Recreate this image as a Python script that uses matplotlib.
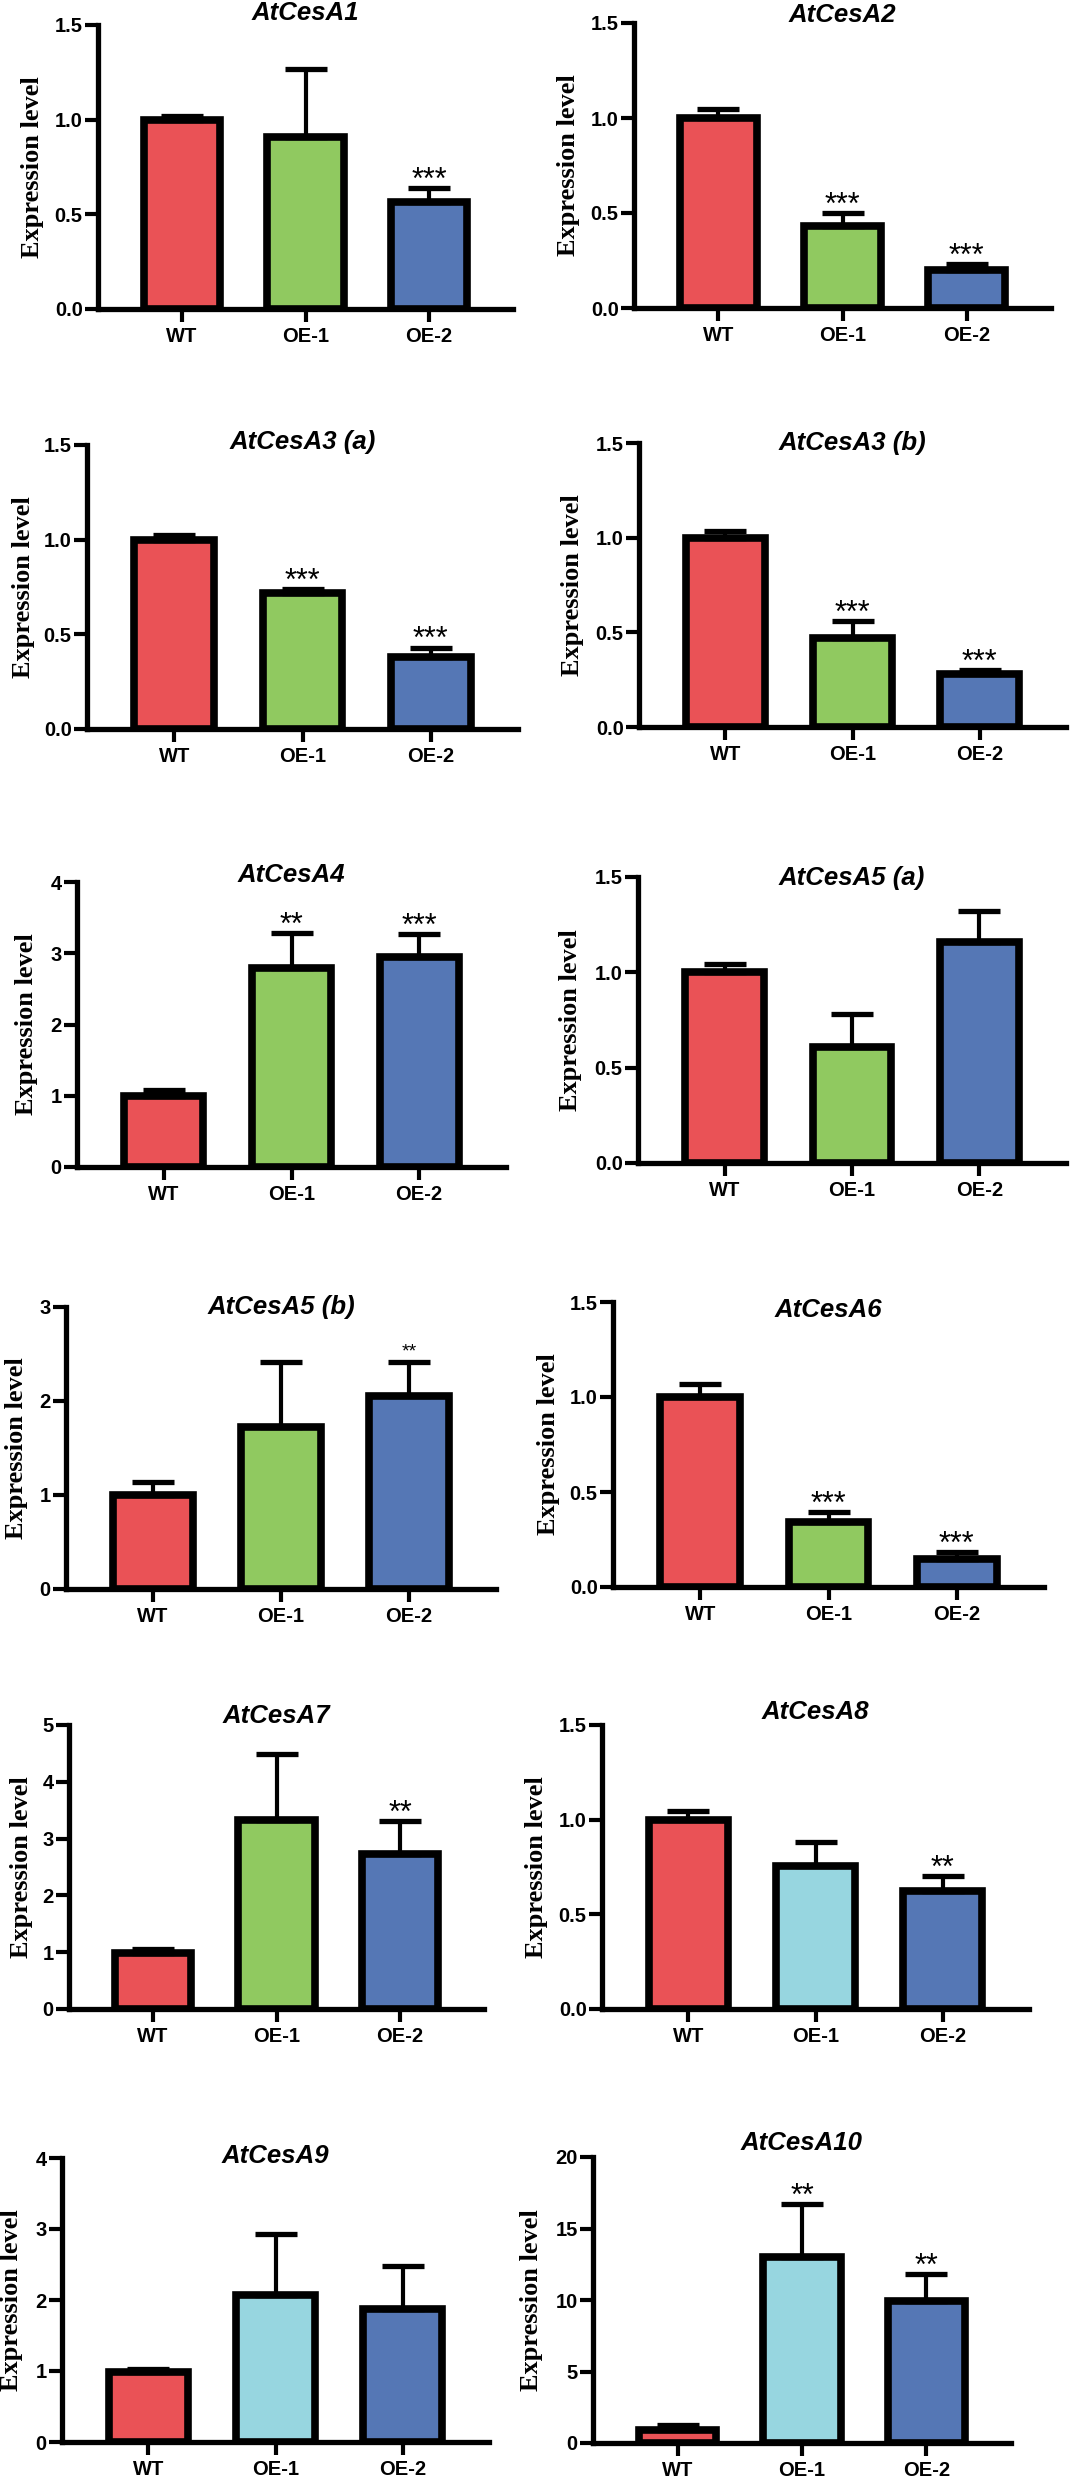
import matplotlib
matplotlib.use('Agg')
import matplotlib.pyplot as plt
from matplotlib.transforms import offset_copy
import numpy as np

# ---------------- data ----------------
groups = ['WT', 'OE-1', 'OE-2']
genes = ['AtCesA1', 'AtCesA2', 'AtCesA3 (a)', 'AtCesA3 (b)', 'AtCesA4', 'AtCesA5 (a)',
         'AtCesA5 (b)', 'AtCesA6', 'AtCesA7', 'AtCesA8', 'AtCesA9', 'AtCesA10']
means = [
    [1.00, 0.91, 0.565],
    [1.00, 0.43, 0.20],
    [1.00, 0.72, 0.38],
    [1.00, 0.47, 0.28],
    [1.00, 2.79, 2.95],
    [1.00, 0.61, 1.16],
    [1.00, 1.72, 2.05],
    [1.00, 0.34, 0.15],
    [0.98, 3.33, 2.73],
    [1.00, 0.755, 0.625],
    [0.98, 2.07, 1.87],
    [0.90, 13.0, 9.9],
]
errors = [
    [0.02, 0.36, 0.075],
    [0.05, 0.07, 0.03],
    [0.025, 0.02, 0.05],
    [0.035, 0.09, 0.02],
    [0.08, 0.49, 0.32],
    [0.045, 0.17, 0.16],
    [0.14, 0.69, 0.36],
    [0.07, 0.055, 0.035],
    [0.07, 1.16, 0.58],
    [0.045, 0.125, 0.075],
    [0.05, 0.86, 0.61],
    [0.36, 3.7, 1.9],
]
stars = [
    ['', '', '***'],
    ['', '***', '***'],
    ['', '***', '***'],
    ['', '***', '***'],
    ['', '**', '***'],
    ['', '', ''],
    ['', '', '**'],
    ['', '***', '***'],
    ['', '', '**'],
    ['', '', '**'],
    ['', '', ''],
    ['', '**', '**'],
]
y_max = [1.5, 1.5, 1.5, 1.5, 4, 1.5, 3, 1.5, 5, 1.5, 4, 20]
y_step = [0.5, 0.5, 0.5, 0.5, 1, 0.5, 1, 0.5, 1, 0.5, 1, 5]
oe1_cyan = [False] * 9 + [True] * 3

# ---------------- style / layout ----------------
RED = '#EA5256'
GREEN = '#90C960'
CYAN = '#97D6E0'
BLUE = '#5577B5'

W, H = 1072, 2480
# pixel boxes: left, right, top, bottom(y=0)
boxes = [
    (98, 513, 25, 309), (634, 1051, 23, 308),
    (87, 518, 445, 729), (639, 1066, 443, 727),
    (77, 506, 882, 1167), (638, 1066, 877, 1163),
    (66, 496, 1307, 1589), (613, 1044, 1302, 1587),
    (69, 484, 1725, 2009), (602, 1029, 1725, 2009),
    (62, 489, 2158, 2442), (593, 1011, 2157, 2443),
]
title_dy = [12, 8, 3, 0, 7, -1, 0, -8, 9, 13, 2, 14]
ylabel_dx = [65, 66, 63, 66, 50, 67, 49, 65, 47, 65, 50, 61]
star_size = [22, 22, 22, 22, 22, 22, 14, 22, 22, 22, 22, 22]

fig = plt.figure(figsize=(W / 100, H / 100), dpi=100)
fig.patch.set_facecolor('white')

SANS = ['Liberation Sans', 'DejaVu Sans']
SERIF = ['Liberation Serif', 'DejaVu Serif']

for i, gene in enumerate(genes):
    l, r, t, b = boxes[i]
    ax = fig.add_axes([l / W, 1 - b / H, (r - l) / W, (b - t) / H])
    x = np.arange(len(groups))
    cols = [RED, CYAN if oe1_cyan[i] else GREEN, BLUE]
    ax.bar(x, means[i], width=0.62, color=cols, edgecolor='black',
           linewidth=5.5, zorder=2)
    ax.errorbar(x, means[i], yerr=[np.zeros(3), errors[i]], fmt='none',
                ecolor='black', elinewidth=3.0, capsize=15, capthick=3.8,
                zorder=3)
    for j in range(3):
        if stars[i][j]:
            fs = star_size[i]
            ax.annotate(stars[i][j], xy=(x[j], means[i][j] + errors[i][j]),
                        xytext=(0, 17 / 1.389 - 0.58 * fs), textcoords='offset points',
                        ha='center', va='baseline', fontsize=fs,
                        family=SANS, color='black', zorder=4)
    ax.set_xlim(-0.68, 2.68)
    ax.set_ylim(0, y_max[i])
    ticks = np.arange(0, y_max[i] + 1e-9, y_step[i])
    ax.set_yticks(ticks)
    if y_step[i] < 1:
        ax.set_yticklabels([f'{v:.1f}' for v in ticks])
    else:
        ax.set_yticklabels([f'{int(round(v))}' for v in ticks])
    ax.set_xticks(x)
    ax.set_xticklabels(groups)
    for lab in ax.get_xticklabels() + ax.get_yticklabels():
        lab.set_fontfamily(SANS)
        lab.set_fontweight('bold')
        lab.set_fontsize(14.5)
    ax.tick_params(axis='x', length=9, width=3, pad=4, direction='out')
    ax.tick_params(axis='y', length=9.5, width=3, pad=1.5, direction='out')
    for s in ['top', 'right']:
        ax.spines[s].set_visible(False)
    for s in ['left', 'bottom']:
        ax.spines[s].set_linewidth(3.8)
        ax.spines[s].set_capstyle('projecting')
    ax.set_facecolor('none')
    # title
    ttrans = offset_copy(ax.transAxes, fig=fig, x=0, y=title_dy[i], units='dots')
    ax.text(0.5, 1.0, gene, transform=ttrans, ha='center', va='center',
            fontsize=18.5, fontweight='bold', fontstyle='italic', family=SANS)
    # y label
    ltrans = offset_copy(ax.transAxes, fig=fig, x=-ylabel_dx[i], y=0, units='dots')
    ax.text(0.0, 0.5, 'Expression level', transform=ltrans, ha='center', va='center',
            rotation=90, fontsize=19, fontweight='bold', family=SERIF)

fig.savefig('out.png', dpi=100, facecolor='white')
